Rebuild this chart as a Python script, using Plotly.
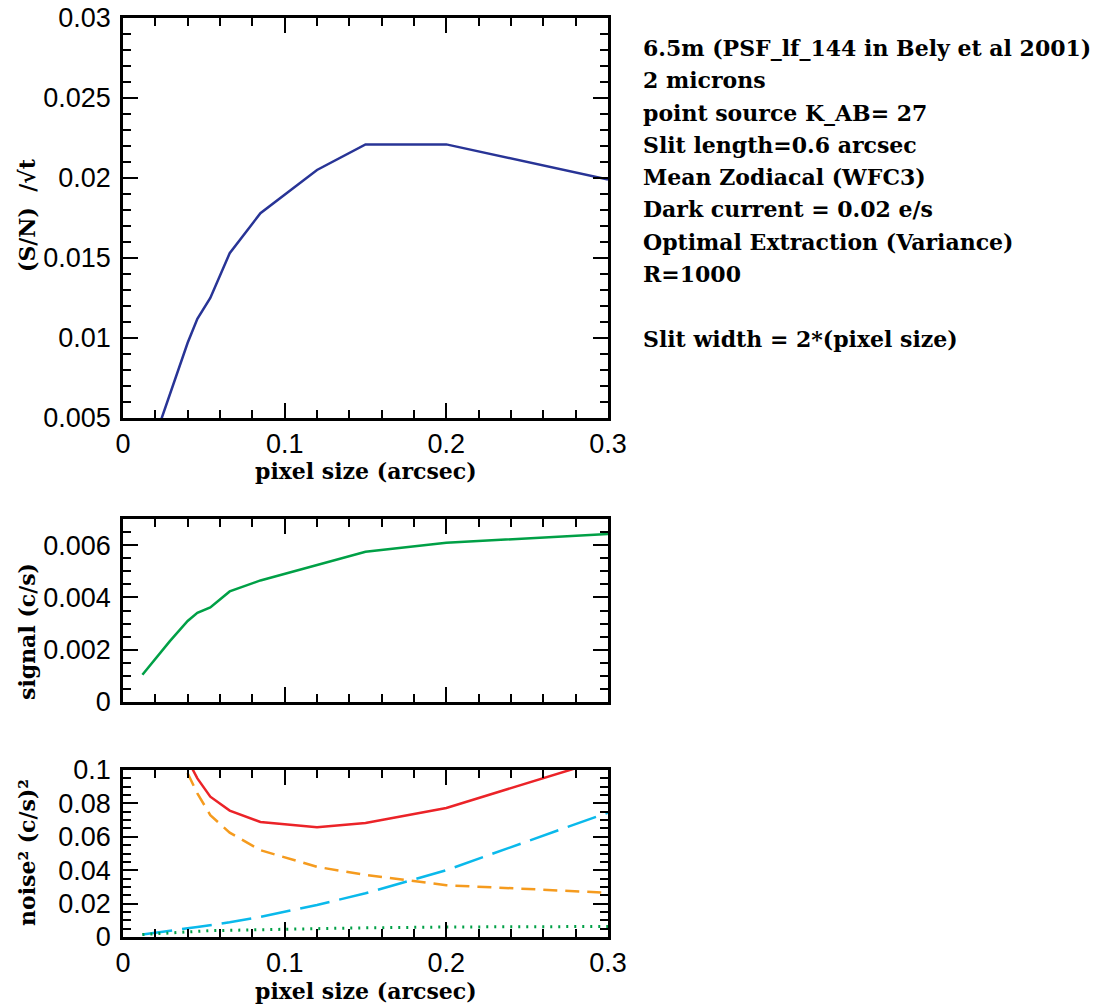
import plotly.graph_objects as go

# ---- data ----
pix = [0.012, 0.029, 0.040, 0.046, 0.054, 0.066, 0.085, 0.12, 0.15, 0.20, 0.30]
sn = [0.0015, 0.0065, 0.0097, 0.0112, 0.0125, 0.0153, 0.0178, 0.0205, 0.0221, 0.0221, 0.0199]
signal = [0.00104, 0.00233, 0.0031, 0.00341, 0.00362, 0.00423, 0.00465, 0.00525, 0.00575, 0.00609, 0.00643]
noise_total = [0.325, 0.147, 0.106, 0.095, 0.084, 0.0757, 0.0689, 0.0657, 0.0683, 0.0773, 0.107]
noise_src = [0.32, 0.14, 0.098, 0.086, 0.073, 0.0625, 0.052, 0.042, 0.0372, 0.031, 0.0265]
noise_sky = [0.0015, 0.0035, 0.0052, 0.006, 0.007, 0.0088, 0.012, 0.0192, 0.0262, 0.040, 0.0745]
noise_dark = [0.0015, 0.0025, 0.003, 0.0035, 0.0038, 0.004, 0.0045, 0.005, 0.0055, 0.006, 0.0063]

x_ticks = [0, 0.1, 0.2, 0.3]
x_ticklabels = ["0", "0.1", "0.2", "0.3"]
sn_ticks = [0.005, 0.01, 0.015, 0.02, 0.025, 0.03]
sn_ticklabels = ["0.005", "0.01", "0.015", "0.02", "0.025", "0.03"]
sig_ticks = [0, 0.002, 0.004, 0.006]
sig_ticklabels = ["0", "0.002", "0.004", "0.006"]
noi_ticks = [0, 0.02, 0.04, 0.06, 0.08, 0.1]
noi_ticklabels = ["0", "0.02", "0.04", "0.06", "0.08", "0.1"]

info_lines = [
    "6.5m (PSF_lf_144 in Bely et al 2001)",
    "2 microns",
    "point source K_AB= 27",
    "Slit length=0.6 arcsec",
    "Mean Zodiacal (WFC3)",
    "Dark current = 0.02 e/s",
    "Optimal Extraction (Variance)",
    "R=1000",
    "",
    "Slit width = 2*(pixel size)",
]

# page body has an 8px margin: the figure is drawn 8px right/down of the window origin
OFF = 8
W, H = 1106 - OFF, 1006 - OFF
TICKFONT = dict(family="Liberation Sans", size=27, color="black")
SERIF = "DejaVu Serif"
EPS = 1e-9

def px(xp):
    return (xp - OFF) / W

def py(yp):
    return 1 - (yp - OFF) / H

def ydom(top, bot):
    return [py(bot), py(top)]

xdom = [px(123), px(608)]

fig = go.Figure()
fig.add_trace(go.Scatter(x=pix, y=sn, mode="lines", line=dict(color="rgb(40,52,150)", width=2.5),
                         xaxis="x", yaxis="y", showlegend=False))
fig.add_trace(go.Scatter(x=pix, y=signal, mode="lines", line=dict(color="rgb(0,160,70)", width=2.5),
                         xaxis="x2", yaxis="y2", showlegend=False))
fig.add_trace(go.Scatter(x=pix, y=noise_total, mode="lines", line=dict(color="rgb(235,35,40)", width=2.5),
                         xaxis="x3", yaxis="y3", showlegend=False))
fig.add_trace(go.Scatter(x=pix, y=noise_src, mode="lines",
                         line=dict(color="rgb(245,155,30)", width=2.5, dash="14px,8px"),
                         xaxis="x3", yaxis="y3", showlegend=False))
fig.add_trace(go.Scatter(x=pix, y=noise_sky, mode="lines",
                         line=dict(color="rgb(10,185,235)", width=2.5, dash="30px,10px"),
                         xaxis="x3", yaxis="y3", showlegend=False))
fig.add_trace(go.Scatter(x=pix, y=noise_dark, mode="lines",
                         line=dict(color="rgb(0,160,70)", width=3, dash="2px,6px"),
                         xaxis="x3", yaxis="y3", showlegend=False))

def xaxis(anchor, labels):
    return dict(domain=xdom, anchor=anchor, range=[0, 0.3 + EPS], tickvals=x_ticks,
                ticktext=x_ticklabels, showticklabels=labels, ticks="inside", ticklen=15,
                tickwidth=2, tickcolor="black", showline=True, linewidth=2.5, linecolor="black",
                mirror="ticks", showgrid=False, zeroline=False, tickfont=TICKFONT, automargin=False,
                ticklabeloverflow="allow",
                minor=dict(dtick=0.02, tick0=0, ticks="inside", ticklen=8, tickwidth=2,
                           tickcolor="black", showgrid=False))

def yaxis(anchor, dom, rng, tv, tt, mdt):
    return dict(domain=dom, anchor=anchor, range=rng, tickvals=tv, ticktext=tt,
                ticks="inside", ticklen=15, tickwidth=2, tickcolor="black",
                showline=True, linewidth=2.5, linecolor="black", mirror="ticks",
                showgrid=False, zeroline=False, tickfont=TICKFONT, ticklabelstandoff=4,
                automargin=False, ticklabeloverflow="allow",
                minor=dict(dtick=mdt, tick0=0, ticks="inside", ticklen=8, tickwidth=2,
                           tickcolor="black", showgrid=False))

annotations = []
for i, t in enumerate(info_lines):
    if not t:
        continue
    yc = 48 + i * 32.3
    annotations.append(dict(text=t, xref="paper", yref="paper", x=px(641), y=py(yc),
                            xanchor="left", yanchor="middle", showarrow=False,
                            font=dict(family=SERIF, size=22, color="black", weight="bold")))

def title(text, xc, yc, angle=0):
    annotations.append(dict(text=text, xref="paper", yref="paper", x=px(xc), y=py(yc),
                            xanchor="center", yanchor="middle", showarrow=False, textangle=angle,
                            font=dict(family=SERIF, size=22, color="black", weight="bold")))

title("pixel size (arcsec)", 366, 471)
title("pixel size (arcsec)", 366, 991)
title("(S/N)\u00a0 /√t", 27, 215, -90)
title("signal (c/s)", 27, 632, -90)
title("noise² (c/s)²", 27, 853, -90)

fig.update_layout(
    width=W, height=H, margin=dict(l=0, r=0, t=0, b=0),
    paper_bgcolor="white", plot_bgcolor="white",
    xaxis=xaxis("y", True),
    yaxis=yaxis("x", ydom(18, 418), [0.005, 0.03 + EPS], sn_ticks, sn_ticklabels, 0.001),
    xaxis2=xaxis("y2", False),
    yaxis2=yaxis("x2", ydom(519, 702), [0, 0.007], sig_ticks, sig_ticklabels, 0.0005),
    xaxis3=xaxis("y3", True),
    yaxis3=yaxis("x3", ydom(770, 937), [0, 0.1 + EPS], noi_ticks, noi_ticklabels, 0.005),
    annotations=annotations,
)

fig.write_html("out.html")
